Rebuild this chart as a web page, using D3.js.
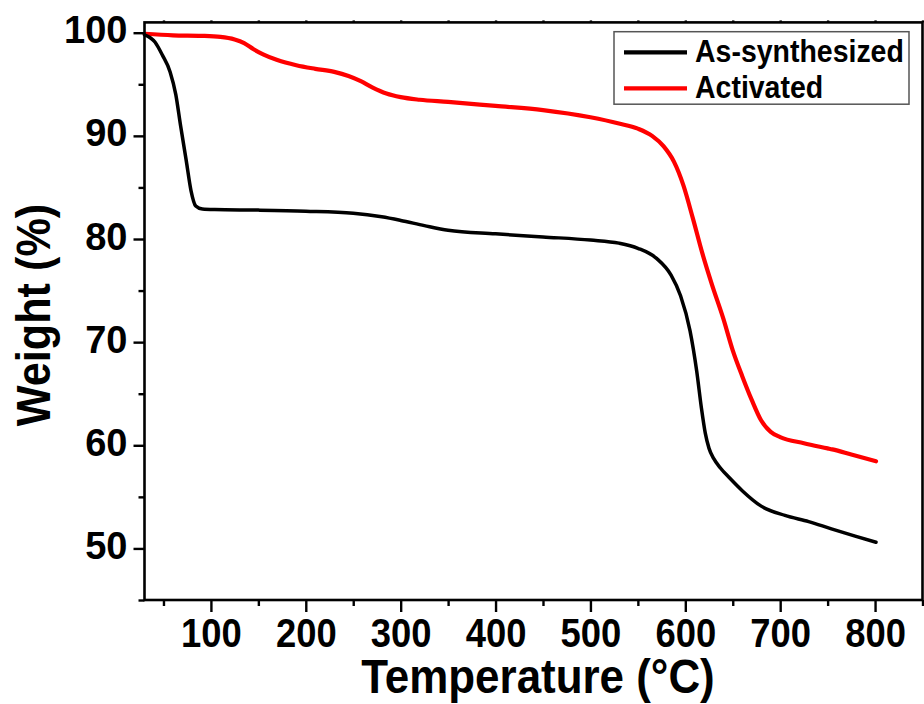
<!DOCTYPE html>
<html>
<head>
<meta charset="utf-8">
<script src="https://cdn.jsdelivr.net/npm/d3@7/dist/d3.min.js"></script>
<style>
  html, body { margin: 0; padding: 0; background: #fff; }
  svg { display: block; }
  text { font-family: "Liberation Sans", Arial, Helvetica, sans-serif; font-weight: bold; fill: #000; }
</style>
</head>
<body>
<svg id="chart" width="924" height="704"></svg>
<script>
// TGA curves: temperature (°C) vs. residual weight (%)
const seriesNames = ["As-synthesized", "Activated"];
const seriesColors = ["#000000", "#ff0000"];

const asSynTemp = [30, 41, 49, 57, 63, 68, 74, 79, 84, 91, 104, 150, 200, 250, 280, 300, 325, 350, 400, 450, 500, 530, 550, 570, 585, 595, 605, 612, 617, 621, 625, 630, 637, 647, 660, 680, 705, 730, 754, 779, 801];
const asSynWeight = [99.8, 99.1, 97.8, 96.2, 94.0, 91.0, 87.6, 84.7, 83.2, 82.9, 82.85, 82.8, 82.7, 82.5, 82.15, 81.8, 81.3, 80.85, 80.5, 80.2, 79.9, 79.6, 79.1, 78.1, 76.5, 74.5, 71.1, 67.2, 63.6, 61.2, 59.7, 58.7, 57.8, 56.8, 55.6, 54.1, 53.2, 52.6, 51.9, 51.2, 50.6];

const activTemp = [30, 60, 90, 110, 125, 135, 145, 155, 170, 190, 210, 230, 245, 258, 270, 285, 300, 320, 350, 400, 450, 500, 530, 550, 565, 577, 588, 598, 608, 618, 628, 640, 650, 660, 670, 680, 690, 700, 725, 750, 755, 775, 801];
const activWeight = [99.9, 99.75, 99.7, 99.6, 99.35, 99.0, 98.4, 97.9, 97.35, 96.85, 96.5, 96.2, 95.8, 95.3, 94.7, 94.1, 93.75, 93.5, 93.3, 92.9, 92.5, 91.8, 91.2, 90.7, 90.0, 89.0, 87.5, 85.2, 82.0, 78.6, 75.6, 72.3, 69.2, 66.7, 64.4, 62.4, 61.3, 60.8, 60.2, 59.7, 59.6, 59.1, 58.45];

const xMajorTicks = [100, 200, 300, 400, 500, 600, 700, 800];
const xMinorTicks = [50, 150, 250, 350, 450, 550, 650, 750, 850];
const yMajorTicks = [50, 60, 70, 80, 90, 100];
const yMinorTicks = [45, 55, 65, 75, 85, 95];

const xTitle = "Temperature (\u00B0C)";
const yTitle = "Weight (%)";

const svg = d3.select("#chart");

const x = d3.scaleLinear().domain([30, 850]).range([144.5, 922.5]);
const y = d3.scaleLinear().domain([45, 101]).range([600, 22.4]);

const plotLeft = x.range()[0], plotRight = x.range()[1];
const plotTop = y.range()[1], plotBottom = y.range()[0];

const series = [
  { name: seriesNames[0], color: seriesColors[0], width: 3.5,
    points: asSynTemp.map((t, i) => [t, asSynWeight[i]]) },
  { name: seriesNames[1], color: seriesColors[1], width: 4.2,
    points: activTemp.map((t, i) => [t, activWeight[i]]) }
];

const line = d3.line()
  .x(d => x(d[0]))
  .y(d => y(d[1]))
  .curve(d3.curveMonotoneX);

// data lines (activated drawn first so the black curve sits on top where they meet)
svg.append("g").selectAll("path")
  .data(series.slice().reverse())
  .join("path")
  .attr("d", d => line(d.points))
  .attr("fill", "none")
  .attr("stroke", d => d.color)
  .attr("stroke-width", d => d.width)
  .attr("stroke-linejoin", "round")
  .attr("stroke-linecap", "round");

// frame
svg.append("rect")
  .attr("x", plotLeft).attr("y", plotTop)
  .attr("width", plotRight - plotLeft).attr("height", plotBottom - plotTop)
  .attr("fill", "none").attr("stroke", "#000").attr("stroke-width", 2.6);

function styleAxis(g) {
  g.select(".domain").remove();
  g.selectAll(".tick line").attr("stroke", "#000").attr("stroke-width", 2.4);
}

// bottom axis: major ticks with labels
const xAxisG = svg.append("g")
  .attr("transform", `translate(0,${plotBottom})`)
  .call(d3.axisBottom(x).tickValues(xMajorTicks).tickSize(12).tickFormat(d3.format("d")));
styleAxis(xAxisG);
xAxisG.selectAll(".tick text")
  .attr("y", 47).attr("dy", 0)
  .attr("font-size", 40)
  .attr("font-family", null)
  .attr("text-anchor", "middle")
  .attr("transform", "scale(0.91,1)");

// bottom axis: minor ticks
styleAxis(svg.append("g")
  .attr("transform", `translate(0,${plotBottom})`)
  .call(d3.axisBottom(x).tickValues(xMinorTicks).tickSize(6).tickFormat("")));

// top axis: short ticks
styleAxis(svg.append("g")
  .attr("transform", `translate(0,${plotTop})`)
  .call(d3.axisTop(x).tickValues(xMajorTicks.concat(xMinorTicks)).tickSize(2).tickFormat("")));

// left axis: major ticks with labels
const yAxisG = svg.append("g")
  .attr("transform", `translate(${plotLeft},0)`)
  .call(d3.axisLeft(y).tickValues(yMajorTicks).tickSize(11).tickFormat(d3.format("d")));
styleAxis(yAxisG);
yAxisG.selectAll(".tick text")
  .attr("x", -17).attr("y", 10).attr("dy", 0)
  .attr("font-size", 38)
  .attr("font-family", null)
  .attr("text-anchor", "end");

// left axis: minor ticks
styleAxis(svg.append("g")
  .attr("transform", `translate(${plotLeft},0)`)
  .call(d3.axisLeft(y).tickValues(yMinorTicks).tickSize(6).tickFormat("")));

// axis titles
svg.append("text")
  .attr("transform", `translate(${(plotLeft + plotRight) / 2 + 4.5},693) scale(0.915,1)`)
  .attr("text-anchor", "middle")
  .attr("font-size", 48)
  .text(xTitle);

svg.append("text")
  .attr("transform", `translate(50,315) rotate(-90) scale(0.9,1)`)
  .attr("text-anchor", "middle")
  .attr("font-size", 48)
  .text(yTitle);

// legend
const legend = svg.append("g");
legend.append("rect")
  .attr("x", 614).attr("y", 31.7).attr("width", 295).attr("height", 72.5)
  .attr("fill", "#fff").attr("stroke", "#555").attr("stroke-width", 1.5);

const legendRows = legend.selectAll("g.row")
  .data(series)
  .join("g")
  .attr("class", "row")
  .attr("transform", (d, i) => `translate(0,${i * 36})`);

legendRows.append("line")
  .attr("x1", 624).attr("x2", 687)
  .attr("y1", 52.3).attr("y2", 52.3)
  .attr("stroke", d => d.color)
  .attr("stroke-width", 4.2);

legendRows.append("text")
  .attr("transform", "translate(695,61.7) scale(0.89,1)")
  .attr("font-size", 32)
  .text(d => d.name);
</script>
</body>
</html>
